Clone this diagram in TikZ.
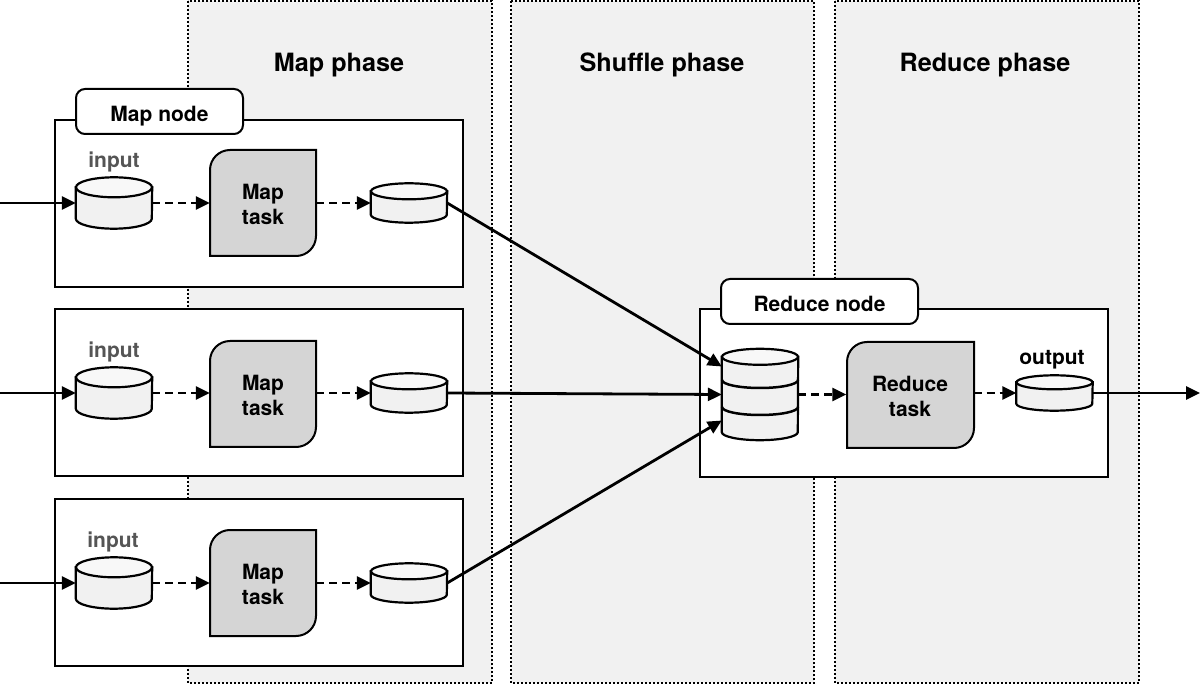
\documentclass[tikz,border=0pt]{standalone}
\usepackage{fontspec}
\setmainfont{TeX Gyre Heros}
\usetikzlibrary{arrows.meta}
\definecolor{panelgray}{HTML}{F1F1F1}
\definecolor{taskgray}{HTML}{D5D5D5}
\definecolor{drumgray}{HTML}{F1F1F1}
\definecolor{drumtop}{HTML}{F8F8F8}
\definecolor{inputgray}{HTML}{555555}
\tikzset{
  panel/.style={draw=black,fill=panelgray,line width=1.4pt,dash pattern=on 2pt off 2pt},
  phasetext/.style={font=\bfseries\fontsize{25.2}{30}\selectfont},
  hostbox/.style={draw=black,fill=white,line width=2pt},
  hosttag/.style={draw=black,fill=white,line width=2pt,rounded corners=9pt,text height=20pt,text depth=0pt,font=\bfseries\fontsize{21}{25}\selectfont},
  taskshape/.style={draw=black,fill=taskgray,line width=2pt},
  tasktext/.style={minimum width=106pt,minimum height=106pt,inner sep=0pt,align=center,font=\bfseries\fontsize{21}{25}\selectfont},
  drumline/.style={draw=black,line width=2.2pt},
  drum/.style={minimum width=76pt,inner sep=0pt,append after command={\pgfextra{
    \draw[drumline,fill=drumgray] ([yshift=-#1pt]\tikzlastnode.north west) -- ([yshift=#1pt]\tikzlastnode.south west)
      arc[start angle=180,end angle=0,x radius=38,y radius=#1] -- ([yshift=-#1pt]\tikzlastnode.north east) -- cycle;
    \draw[drumline,fill=drumtop] ([yshift=-#1pt]\tikzlastnode.north) ellipse[x radius=38pt,y radius=#1pt];
  }}},
  smalltext/.style={font=\bfseries\fontsize{21}{25}\selectfont},
  solidarrow/.style={line width=2.8pt,-{Triangle[length=14pt,width=13pt]}},
  dasharrow/.style={line width=2.8pt,dash pattern=on 8pt off 5pt,-{Triangle[length=14pt,width=13pt]}},
}
\begin{document}
\begin{tikzpicture}[x=1pt,y=-1pt]
  \useasboundingbox (0,0) rectangle (1200,684);
  % phases
  \draw[panel] (188,1) rectangle (492,683);
  \draw[panel] (511,1) rectangle (814,683);
  \draw[panel] (835,1) rectangle (1139,683);
  \node[phasetext] (mapphase) at (339,65) {Map phase};
  \node[phasetext] (shufflephase) at (662,65) {Shuffle phase};
  \node[phasetext] (reducephase) at (985,65) {Reduce phase};
  % map nodes
  \draw[hostbox] (55,120) rectangle (463,287);
  \draw[hostbox] (55,309) rectangle (463,476);
  \draw[hostbox] (55,499) rectangle (463,666);
  \node[hosttag,minimum width=167pt,minimum height=45pt] (maptag) at (159.5,111.5) {Map node};
  % reduce node
  \draw[hostbox] (700,309) rectangle (1108,477);
  \node[hosttag,minimum width=197pt,minimum height=45pt] (reducetag) at (819.5,301.5) {Reduce node};
  % map tasks
  \draw[taskshape] (210,256) [rounded corners=20pt] -- (210,150) [sharp corners] -- (316,150) [rounded corners=20pt] -- (316,256) [sharp corners] -- cycle;
  \node[tasktext] (taskA) at (263,204) {Map\\task};
  \draw[taskshape] (210,447) [rounded corners=20pt] -- (210,341) [sharp corners] -- (316,341) [rounded corners=20pt] -- (316,447) [sharp corners] -- cycle;
  \node[tasktext] (taskB) at (263,395) {Map\\task};
  \draw[taskshape] (210,636) [rounded corners=20pt] -- (210,530) [sharp corners] -- (316,530) [rounded corners=20pt] -- (316,636) [sharp corners] -- cycle;
  \node[tasktext] (taskC) at (263,584) {Map\\task};
  \draw[taskshape] (847,448) [rounded corners=20pt] -- (847,342) [sharp corners] -- (974,342) [rounded corners=20pt] -- (974,448) [sharp corners] -- cycle;
  \node[tasktext,minimum width=127pt] (taskR) at (910,396) {Reduce\\task};
  % drums
  \node[drum=10,minimum height=51pt] (inA) at (114,203) {};
  \node[drum=10,minimum height=51pt] (inB) at (114,393) {};
  \node[drum=10,minimum height=51pt] (inC) at (114,583) {};
  \node[drum=8,minimum height=39pt] (outA) at (409,203) {};
  \node[drum=8,minimum height=39pt] (outB) at (409,393) {};
  \node[drum=8,minimum height=39pt] (outC) at (409,583) {};
  \node[drum=8,minimum height=91pt] (store) at (760,394.5) {};
  \draw[line width=2.5pt] (722,380) arc[start angle=180,end angle=0,x radius=38,y radius=8];
  \draw[line width=2.5pt] (722,407) arc[start angle=180,end angle=0,x radius=38,y radius=8];
  \node[drum=7,minimum height=35pt] (result) at (1054.5,393) {};
  % labels
  \node[smalltext,text=inputgray] (inputA) at (114,162) {input};
  \node[smalltext,text=inputgray] (inputB) at (114,352) {input};
  \node[smalltext,text=inputgray] (inputC) at (113,542) {input};
  \node[smalltext] (outputR) at (1052,360) {output};
  % connectors
  \coordinate (startA) at (0,203);
  \coordinate (startB) at (0,393);
  \coordinate (startC) at (0,583);
  \coordinate (finish) at (1200,393);
  \draw[solidarrow] (startA) -- (inA.west);
  \draw[solidarrow] (startB) -- (inB.west);
  \draw[solidarrow] (startC) -- (inC.west);
  \draw[dasharrow] (inA.east) -- (inA.east -| taskA.west);
  \draw[dasharrow] (inB.east) -- (inB.east -| taskB.west);
  \draw[dasharrow] (inC.east) -- (inC.east -| taskC.west);
  \draw[dasharrow] (outA.west -| taskA.east) -- (outA.west);
  \draw[dasharrow] (outB.west -| taskB.east) -- (outB.west);
  \draw[dasharrow] (outC.west -| taskC.east) -- (outC.west);
  \draw[solidarrow] (outA.east) -- ([yshift=28pt]store.west);
  \draw[solidarrow] (outB.east) -- (store.west);
  \draw[solidarrow] (outC.east) -- ([yshift=-26pt]store.west);
  \draw[dasharrow] (store.east) -- (store.east -| taskR.west);
  \draw[dasharrow] (result.west -| taskR.east) -- (result.west);
  \draw[solidarrow] (result.east) -- (finish);
\end{tikzpicture}
\end{document}
